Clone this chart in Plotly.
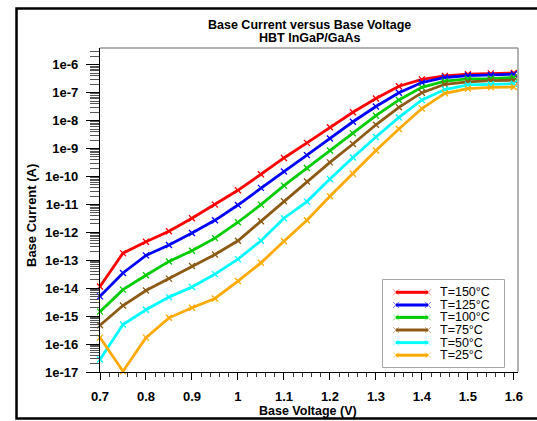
import plotly.graph_objects as go

voltage = [0.70, 0.75, 0.80, 0.85, 0.90, 0.95, 1.00, 1.05, 1.10, 1.15,
           1.20, 1.25, 1.30, 1.35, 1.40, 1.45, 1.50, 1.55, 1.60]

ib_150 = [1.15e-14, 1.8e-13, 4.6e-13, 1.1e-12, 3.2e-12, 9.8e-12, 3.2e-11, 1.2e-10, 4.6e-10, 1.6e-9,
          5.8e-9, 2.0e-8, 6.2e-8, 1.7e-7, 3.0e-7, 4.0e-7, 4.6e-7, 4.9e-7, 5.1e-7]
ib_125 = [5.1e-15, 3.5e-14, 1.5e-13, 3.5e-13, 9.5e-13, 2.7e-12, 9.5e-12, 3.9e-11, 1.5e-10, 5.8e-10,
          2.3e-9, 9.1e-9, 3.2e-8, 1.0e-7, 2.3e-7, 3.5e-7, 4.1e-7, 4.3e-7, 4.6e-7]
ib_100 = [1.45e-15, 8.9e-15, 2.9e-14, 9.1e-14, 2.2e-13, 6.2e-13, 2.3e-12, 9.8e-12, 4.7e-11, 2.0e-10,
          8.5e-10, 3.5e-9, 1.5e-8, 5.5e-8, 1.55e-7, 2.6e-7, 3.1e-7, 3.2e-7, 3.5e-7]
ib_75 = [4.7e-16, 2.4e-15, 8.3e-15, 2.2e-14, 6.2e-14, 1.6e-13, 5.0e-13, 2.5e-12, 1.3e-11, 6.6e-11,
         3.2e-10, 1.45e-9, 7.1e-9, 3.0e-8, 1.0e-7, 2.0e-7, 2.45e-7, 2.7e-7, 2.8e-7]
ib_50 = [2.8e-17, 5.0e-16, 1.7e-15, 4.8e-15, 1.1e-14, 3.2e-14, 1.1e-13, 5.0e-13, 3.2e-12, 1.26e-11,
         8.1e-11, 4.8e-10, 2.6e-9, 1.3e-8, 5.5e-8, 1.3e-7, 1.9e-7, 2.0e-7, 2.1e-7]
ib_25 = [1.7e-16, 1.07e-17, 1.7e-16, 8.7e-16, 2.0e-15, 4.3e-15, 1.8e-14, 8.1e-14, 4.8e-13, 2.7e-12,
         1.95e-11, 1.26e-10, 8.5e-10, 5.0e-9, 2.7e-8, 9.5e-8, 1.4e-7, 1.55e-7, 1.6e-7]

series_names = ["T=150°C", "T=125°C", "T=100°C", "T=75°C", "T=50°C", "T=25°C"]
series_values = [ib_150, ib_125, ib_100, ib_75, ib_50, ib_25]
series_colors = ["#ff0000", "#0000ff", "#00cc00", "#8c5a14", "#00ffff", "#ffaa00"]

x_tick_vals = [0.7, 0.8, 0.9, 1.0, 1.1, 1.2, 1.3, 1.4, 1.5, 1.6]
x_tick_text = ["0.7", "0.8", "0.9", "1", "1.1", "1.2", "1.3", "1.4", "1.5", "1.6"]
y_exponents = [-17, -16, -15, -14, -13, -12, -11, -10, -9, -8, -7, -6]
y_tick_text = ["1e%d" % e for e in y_exponents]

FONT = "Liberation Sans, Arial, sans-serif"
W, H = 537, 421
L, R, T, B = 100, 518, 48, 372  # plot area in pixels


def px_x(p):
    return (p - L) / (R - L)


def px_y(p):
    return (B - p) / (B - T)


fig = go.Figure()

for name, vals, col in zip(series_names, series_values, series_colors):
    fig.add_trace(go.Scatter(
        x=voltage, y=vals, name=name, mode="lines+markers",
        line=dict(color=col, width=2.8),
        marker=dict(symbol="x-thin", size=6, color=col, line=dict(color=col, width=1.3)),
        showlegend=False, cliponaxis=False,
    ))

# custom compact legend drawn on an overlay axis
leg_x0, leg_x1, leg_y0, leg_y1 = 383, 504, 280, 367
row_off = [12.3, 25.0, 37.4, 50.0, 62.6, 75.2]
for i, (name, col) in enumerate(zip(series_names, series_colors)):
    fig.add_trace(go.Scatter(
        x=[13, 45], y=[row_off[i], row_off[i]], xaxis="x2", yaxis="y2",
        mode="lines+markers", line=dict(color=col, width=3),
        marker=dict(symbol="x-thin", size=6, color=col, line=dict(color=col, width=1),
                    opacity=0.5),
        showlegend=False, hoverinfo="skip",
    ))
    fig.add_annotation(x=55, y=row_off[i], xref="x2", yref="y2", text=name,
                       showarrow=False, xanchor="left", yanchor="middle",
                       font=dict(family=FONT, size=12.5, color="black"))

minor_y = [k * 10.0 ** e for e in range(-17, -5) for k in range(2, 10)]
minor_x = [round(0.7 + 0.02 * i, 2) for i in range(0, 46)]

fig.update_layout(
    width=W, height=H,
    margin=dict(l=L, r=W - R, t=T, b=H - B, pad=0),
    paper_bgcolor="white", plot_bgcolor="white",
    font=dict(family=FONT, size=12, color="black"),
    xaxis=dict(
        range=[0.7, 1.609], showgrid=False, zeroline=False,
        tickmode="array", tickvals=x_tick_vals, ticktext=x_tick_text,
        ticks="outside", ticklen=7, tickwidth=1, tickcolor="black",
        showline=True, linecolor="black", linewidth=1.2,
        tickfont=dict(family=FONT, size=13, weight="bold"),
        ticklabelstandoff=5,
        minor=dict(tickmode="array", tickvals=minor_x, ticks="outside",
                   ticklen=4, tickcolor="#333", tickwidth=1),
    ),
    yaxis=dict(
        type="log", range=[-17, -5.4], showgrid=False, zeroline=False,
        tickmode="array", tickvals=[10.0 ** e for e in y_exponents], ticktext=y_tick_text,
        ticks="outside", ticklen=13, tickwidth=1.2, tickcolor="black",
        showline=True, linecolor="black", linewidth=1.2,
        tickfont=dict(family=FONT, size=13, weight="bold"),
        ticklabelstandoff=5,
        minor=dict(tickmode="array", tickvals=minor_y, ticks="outside",
                   ticklen=9, tickcolor="#555", tickwidth=1),
    ),
    xaxis2=dict(domain=[px_x(leg_x0), px_x(leg_x1)], range=[0, leg_x1 - leg_x0],
                anchor="y2", visible=False, fixedrange=True),
    yaxis2=dict(domain=[px_y(leg_y1), px_y(leg_y0)], range=[leg_y1 - leg_y0, 0],
                anchor="x2", visible=False, fixedrange=True),
    shapes=[
        # outer frame
        dict(type="rect", xref="paper", yref="paper",
             x0=px_x(16.5), x1=px_x(545), y0=px_y(418.5), y1=px_y(8.5),
             line=dict(color="black", width=2.5), layer="below"),
        # plot frame top/right (gray)
        dict(type="line", xref="paper", yref="paper", x0=0, x1=1, y0=1, y1=1,
             line=dict(color="#999999", width=1.5)),
        dict(type="line", xref="paper", yref="paper", x0=1, x1=1, y0=0, y1=1,
             line=dict(color="#999999", width=1.5)),
        # legend box
        dict(type="rect", xref="paper", yref="paper",
             x0=px_x(leg_x0), x1=px_x(leg_x1), y0=px_y(leg_y1), y1=px_y(leg_y0),
             line=dict(color="#888888", width=1.5), fillcolor="white", layer="below"),
    ],
    annotations=list(fig.layout.annotations) + [
        dict(text="Base Current versus Base Voltage", xref="paper", yref="paper",
             x=px_x(309), y=px_y(25), showarrow=False, xanchor="center", yanchor="middle",
             font=dict(family=FONT, size=12.5, weight="bold")),
        dict(text="HBT InGaP/GaAs", xref="paper", yref="paper",
             x=px_x(309), y=px_y(38.5), showarrow=False, xanchor="center", yanchor="middle",
             font=dict(family=FONT, size=12.5, weight="bold")),
        dict(text="Base Voltage (V)", xref="paper", yref="paper",
             x=px_x(308), y=px_y(411), showarrow=False, xanchor="center", yanchor="middle",
             font=dict(family=FONT, size=12.5, weight="bold")),
        dict(text="Base Current (A)", xref="paper", yref="paper",
             x=px_x(31), y=px_y(216), showarrow=False, xanchor="center", yanchor="middle",
             textangle=-90, font=dict(family=FONT, size=13, weight="bold")),
    ],
)

fig.write_html("out.html")
